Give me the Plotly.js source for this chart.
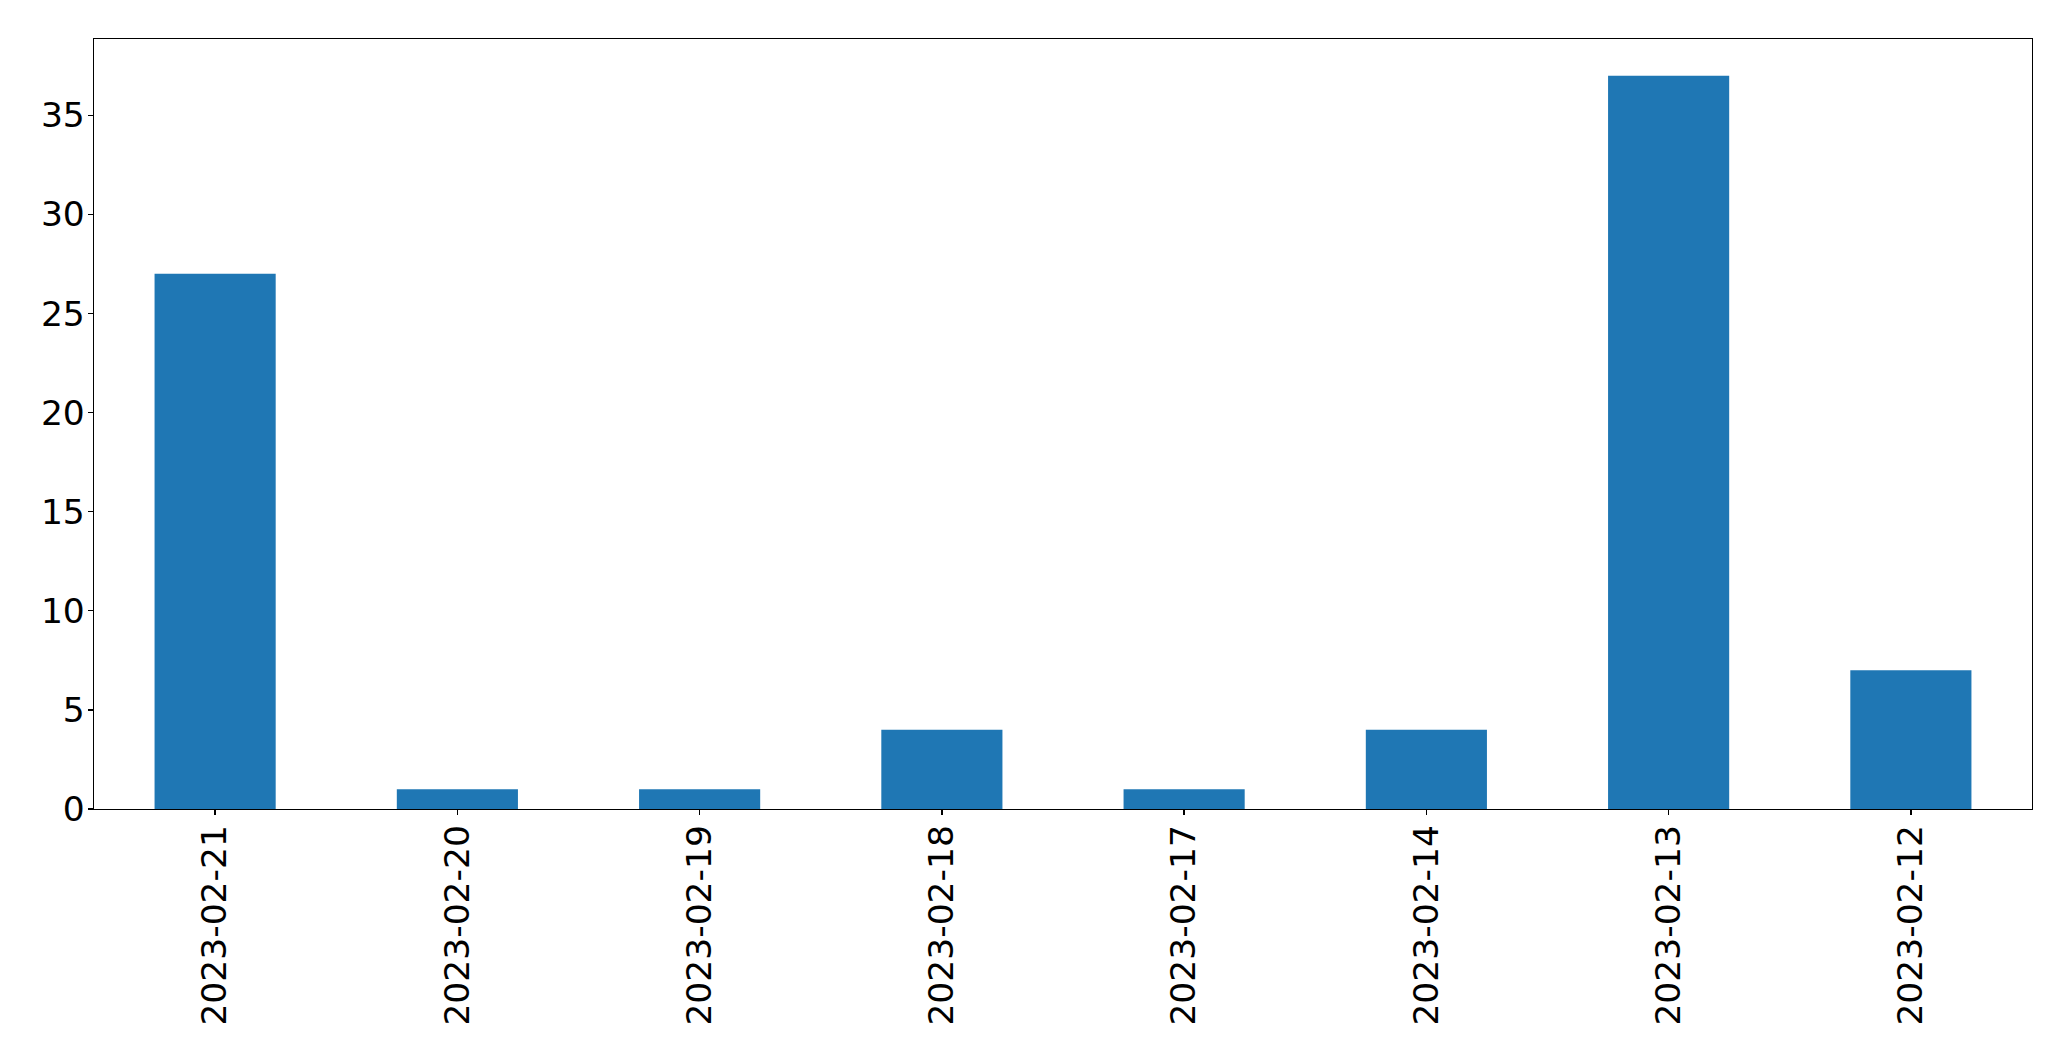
<!DOCTYPE html>
<html>
<head>
<meta charset="utf-8">
<script src="https://cdn.plot.ly/plotly-3.0.1.min.js"></script>
<style>html,body{margin:0;padding:0;background:#fff;}</style>
</head>
<body>
<div id="chart" style="width:2071px;height:1061px;"></div>
<script>
const categories = ["2023-02-21","2023-02-20","2023-02-19","2023-02-18","2023-02-17","2023-02-14","2023-02-13","2023-02-12"];
const values = [27, 1, 1, 4, 1, 4, 37, 7];
const yTicks = [0, 5, 10, 15, 20, 25, 30, 35];

const trace = {
  type: "bar",
  x: categories,
  y: values,
  width: 0.5,
  marker: {color: "#1f77b4", line: {width: 0}},
  hoverinfo: "x+y"
};

const layout = {
  width: 2071,
  height: 1061,
  margin: {l: 94, r: 39, t: 39, b: 252, pad: 0},
  paper_bgcolor: "#ffffff",
  plot_bgcolor: "#ffffff",
  font: {family: "DejaVu Sans, sans-serif", size: 34.5, color: "#000000"},
  showlegend: false,
  xaxis: {
    type: "category",
    range: [-0.5, 7.5],
    tickangle: -90,
    ticks: "outside",
    ticklen: 5,
    tickwidth: 1.3,
    tickcolor: "#000",
    showline: true,
    linecolor: "#000",
    linewidth: 1.3,
    mirror: true,
    showgrid: false,
    zeroline: false,
    ticklabelstandoff: -4,
    tickfont: {size: 34.5}
  },
  yaxis: {
    range: [0, 38.85],
    tickvals: yTicks,
    ticktext: yTicks.map(String),
    ticks: "outside",
    ticklen: 5,
    tickwidth: 1.3,
    tickcolor: "#000",
    showline: true,
    linecolor: "#000",
    linewidth: 1.3,
    mirror: true,
    showgrid: false,
    zeroline: false,
    ticklabelstandoff: -4,
    tickfont: {size: 34.5}
  }
};

Plotly.newPlot("chart", [trace], layout, {displayModeBar: false, staticPlot: true});
</script>
</body>
</html>
